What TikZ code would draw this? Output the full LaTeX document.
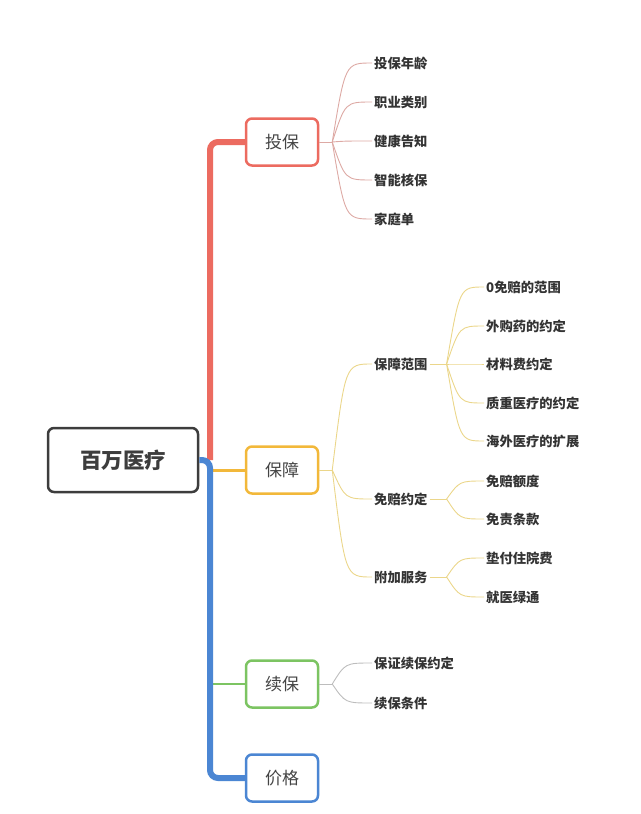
\documentclass[tikz,border=0pt]{standalone}
\usepackage{fontspec}
\setmainfont{Noto Sans CJK SC}
\usetikzlibrary{positioning, calc}
\definecolor{rootgray}{HTML}{3D3D3D}
\definecolor{topictext}{HTML}{444444}
\definecolor{subtext}{HTML}{333333}
\definecolor{tbred}{HTML}{EC6B60}
\definecolor{bzyellow}{HTML}{F2B83A}
\definecolor{xbgreen}{HTML}{7CC462}
\definecolor{jgblue}{HTML}{4B86D3}
\definecolor{tbline}{HTML}{DDA9A4}
\definecolor{bzline}{HTML}{EBD68A}
\definecolor{xbline}{HTML}{BDBDBD}
\tikzstyle{root_node} = [rectangle, rounded corners=6pt, draw=rootgray, line width=2.5pt, fill=white, minimum width=150pt, minimum height=64pt, font=\fontsize{21.5}{24}\selectfont\bfseries, text=rootgray]
\tikzstyle{topic_node} = [rectangle, rounded corners=6pt, line width=2.5pt, fill=white, minimum width=72pt, minimum height=47pt, font=\fontsize{17}{20}\selectfont, text=topictext]
\tikzstyle{sub_node} = [anchor=west, inner xsep=2pt, inner ysep=1pt, font=\fontsize{13.3}{15}\selectfont\bfseries, text=subtext]
\tikzstyle{spine_line} = [line width=6pt, rounded corners=8pt]
\tikzstyle{sub_link} = [line width=0.9pt]

\begin{document}
\begin{tikzpicture}[x=1pt, y=-1pt]
    \useasboundingbox (0,0) rectangle (640,814);
    % main topics
    \node (root) [root_node] at (123,460) {百万医疗};
    \node (tb) [topic_node, draw=tbred] at (282,142) {投保};
    \node (bz) [topic_node, draw=bzyellow] at (282,470) {保障};
    \node (xb) [topic_node, draw=xbgreen] at (282,684) {续保};
    \node (jg) [topic_node, draw=jgblue] at (282,778) {价格};
    \coordinate (spine) at (210,460);

    % spine
    \draw [line width=3pt, bzyellow] (bz.west) -- (bz.west -| spine);
    \draw [line width=2.5pt, xbgreen] (xb.west) -- (xb.west -| spine);
    \draw [spine_line, tbred] (spine) |- (tb.west);
    \draw [spine_line, jgblue] (root.east) -- (spine) |- (jg.west);

    % 投保
    \coordinate (tb_j) at ($(tb.east)+(13,0)$);
    \foreach \name/\y/\txt in {tb1/63/投保年龄, tb2/102/职业类别, tb3/141/健康告知, tb4/180/智能核保, tb5/219/家庭单}
        \node (\name) [sub_node] at (372,\y) {\txt};
    \draw [sub_link, tbline] (tb.east) -- (tb_j);
    \foreach \name in {tb1,tb2,tb3,tb4,tb5}
        \draw [sub_link, tbline] (tb_j) .. controls ($(tb_j |- \name)+(13,0)$) .. (\name.west);

    % 保障
    \coordinate (bz_j) at ($(bz.east)+(13,0)$);
    \node (bz1) [sub_node] at (372,364) {保障范围};
    \node (bz2) [sub_node] at (372,499) {免赔约定};
    \node (bz3) [sub_node] at (372,577) {附加服务};
    \draw [sub_link, bzline] (bz.east) -- (bz_j);
    \foreach \name in {bz1,bz2,bz3}
        \draw [sub_link, bzline] (bz_j) .. controls ($(bz_j |- \name)+(13,0)$) .. (\name.west);

    \foreach \name/\y/\txt in {bz11/287/0免赔的范围, bz12/326/外购药的约定, bz13/364/材料费约定, bz14/403/质重医疗的约定, bz15/441/海外医疗的扩展,
        bz21/481/免赔额度, bz22/519/免责条款, bz31/558/垫付住院费, bz32/597/就医绿通}
        \node (\name) [sub_node] at (484,\y) {\txt};
    \foreach \p/\kids in {bz1/{bz11,bz12,bz13,bz14,bz15}, bz2/{bz21,bz22}, bz3/{bz31,bz32}} {
        \coordinate (\p_j) at ($(\p.east)+(17,0)$);
        \draw [sub_link, bzline] (\p.east) -- (\p_j);
        \foreach \name in \kids
            \draw [sub_link, bzline] (\p_j) .. controls ($(\p_j |- \name)+(13,0)$) .. (\name.west);
    }

    % 续保
    \coordinate (xb_j) at ($(xb.east)+(13,0)$);
    \node (xb1) [sub_node] at (372,663) {保证续保约定};
    \node (xb2) [sub_node] at (372,703) {续保条件};
    \draw [sub_link, xbline] (xb.east) -- (xb_j);
    \foreach \name in {xb1,xb2}
        \draw [sub_link, xbline] (xb_j) .. controls ($(xb_j |- \name)+(13,0)$) .. (\name.west);
\end{tikzpicture}
\end{document}
